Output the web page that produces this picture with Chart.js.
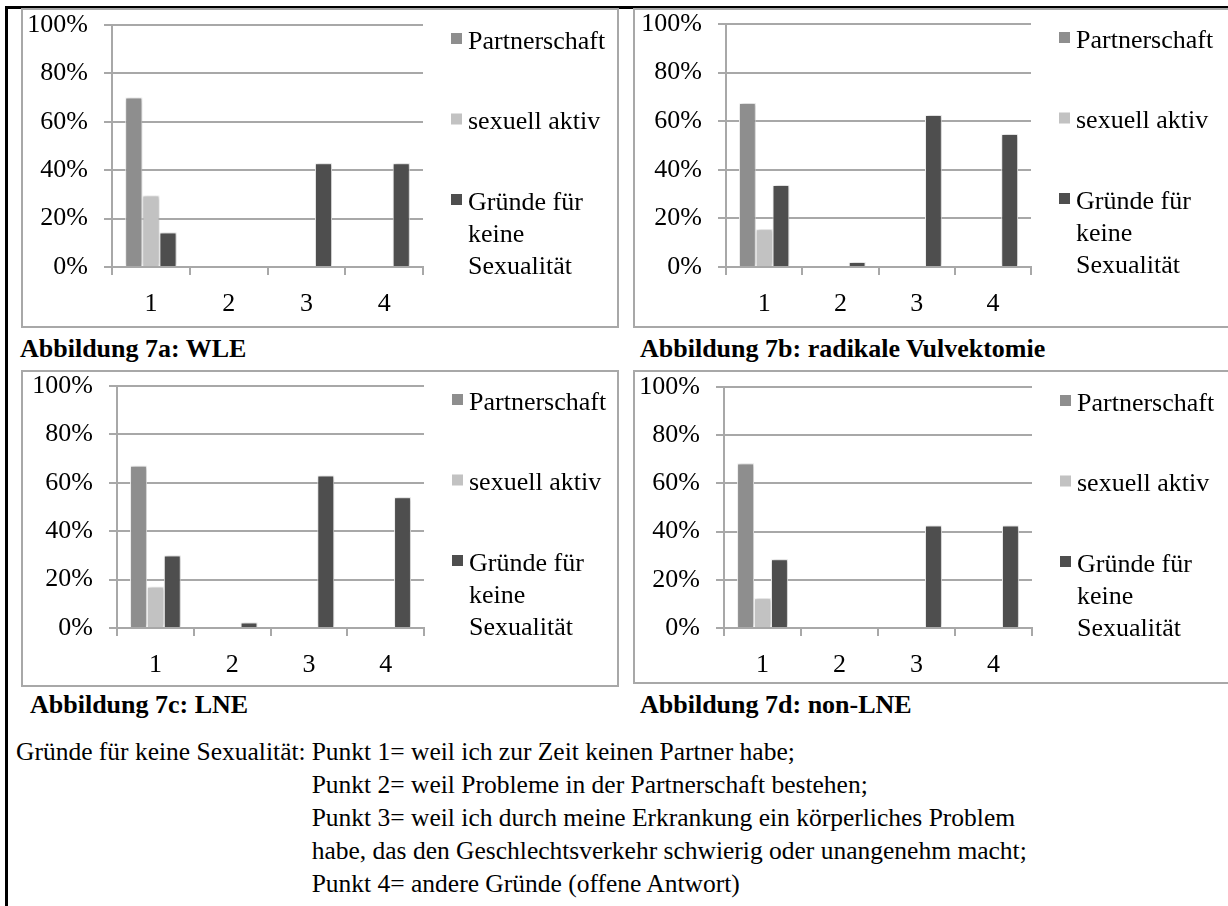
<!DOCTYPE html>
<html>
<head>
<meta charset="utf-8">
<script src="https://cdn.jsdelivr.net/npm/chart.js@4.4.1/dist/chart.umd.min.js"></script>
<style>
  body { margin: 0; width: 1228px; height: 906px; background: #fff; position: relative; overflow: hidden;
         font-family: "Liberation Serif", "Times New Roman", serif; color: #000; }
  #frame { position: absolute; left: 5px; top: 6px; width: 1300px; height: 1000px;
           border-top: 3px solid #000; border-left: 3px solid #000; }
  .panel { position: absolute; border: 2px solid #a8a8a8; background: #fff; }
  .panel canvas { display: block; }
  .cap { position: absolute; font-weight: bold; font-size: 26px; white-space: nowrap; line-height: 30px; }
  .note { position: absolute; left: 16px; top: 735px; font-size: 25.5px; line-height: 33px; white-space: nowrap;
          display: flex; }
  .note .lab { padding-right: 6px; }
</style>
</head>
<body>
<div id="frame"></div>

<div class="panel" style="left:21px;top:8px;"><canvas id="chartA" width="594" height="316"></canvas></div>
<div class="panel" style="left:633px;top:8px;"><canvas id="chartB" width="600" height="316"></canvas></div>
<div class="panel" style="left:21px;top:370px;"><canvas id="chartC" width="594" height="313"></canvas></div>
<div class="panel" style="left:633px;top:370px;"><canvas id="chartD" width="600" height="310"></canvas></div>

<div class="cap" style="left:20px;top:334px;">Abbildung 7a: WLE</div>
<div class="cap" style="left:640px;top:334px;">Abbildung 7b: radikale Vulvektomie</div>
<div class="cap" style="left:30px;top:690px;">Abbildung 7c: LNE</div>
<div class="cap" style="left:640px;top:690px;">Abbildung 7d: non-LNE</div>

<div class="note">
  <div class="lab">Gründe für keine Sexualität:</div>
  <div>Punkt 1= weil ich zur Zeit keinen Partner habe;<br>Punkt 2= weil Probleme in der Partnerschaft bestehen;<br>Punkt 3= weil ich durch meine Erkrankung ein körperliches Problem<br>habe, das den Geschlechtsverkehr schwierig oder unangenehm macht;<br>Punkt 4= andere Gründe (offene Antwort)</div>
</div>

<script>
const categories = ['1', '2', '3', '4'];
const seriesNames = ['Partnerschaft', 'sexuell aktiv', 'Gründe für keine Sexualität'];
const seriesColors = ['#8e8e8e', '#c2c2c2', '#4e4e4e'];
const yTickValues = [0, 20, 40, 60, 80, 100];

// 7a: WLE
const wlePartner = [70, null, null, null];
const wleActive = [29.5, null, null, null];
const wleReasons = [14.3, 0, 42.9, 42.9];

// 7b: radikale Vulvektomie
const radPartner = [67.5, null, null, null];
const radActive = [15.5, null, null, null];
const radReasons = [33.7, 2.1, 62.6, 54.7];

// 7c: LNE
const lnePartner = [67, null, null, null];
const lneActive = [17, null, null, null];
const lneReasons = [30, 2.3, 63, 54];

// 7d: non-LNE
const nonPartner = [68.3, null, null, null];
const nonActive = [12.3, null, null, null];
const nonReasons = [28.5, 0, 42.5, 42.5];

const FONT = '"Liberation Serif", "Times New Roman", serif';
const GRID = '#a8a8a8';

const barShadow = {
  id: 'barShadow',
  beforeDatasetsDraw(chart) {
    const c = chart.ctx;
    c.save();
    c.shadowColor = 'rgba(0,0,0,0.3)';
    c.shadowBlur = 4;
    c.shadowOffsetX = 1;
  },
  afterDatasetsDraw(chart) {
    chart.ctx.restore();
  }
};

function wrapText(ctx, text, maxWidth) {
  const words = text.split(' ');
  const lines = [];
  let line = '';
  for (const w of words) {
    const test = line ? line + ' ' + w : w;
    if (line && ctx.measureText(test).width > maxWidth) {
      lines.push(line);
      line = w;
    } else {
      line = test;
    }
  }
  if (line) lines.push(line);
  return lines;
}

// legend on the right, Excel style
const sideLegend = {
  id: 'sideLegend',
  afterDraw(chart, args, opts) {
    const ctx = chart.ctx;
    const area = chart.chartArea;
    ctx.save();
    ctx.font = '26px ' + FONT;
    ctx.textBaseline = 'middle';
    let y = area.top + opts.offsetTop;
    chart.data.datasets.forEach((ds) => {
      const lines = wrapText(ctx, ds.label, opts.maxWidth);
      ctx.fillStyle = ds.backgroundColor;
      ctx.fillRect(area.right + opts.boxX, y - 9, 11, 11);
      ctx.fillStyle = '#000';
      lines.forEach((ln, i) => ctx.fillText(ln, area.right + opts.textX, y + i * opts.lineHeight));
      y += opts.step;
    });
    ctx.restore();
  }
};

function makeChart(id, partner, active, reasons, frame) {
  const canvas = document.getElementById(id);
  const ctx = canvas.getContext('2d');
  const values = [partner, active, reasons];

  new Chart(ctx, {
    type: 'bar',
    data: {
      labels: categories,
      datasets: seriesNames.map((name, i) => ({
        label: name,
        data: values[i],
        backgroundColor: seriesColors[i],
        borderColor: '#ffffff',
        borderWidth: 1,
        borderSkipped: 'bottom',
        categoryPercentage: 0.66,
        barPercentage: 1,
      })),
    },
    options: {
      responsive: false,
      animation: false,
      devicePixelRatio: 1,
      layout: { padding: { top: frame.top, right: canvas.width - frame.right, left: 0, bottom: 0 } },
      plugins: {
        legend: { display: false },
        tooltip: { enabled: false },
        sideLegend: { offsetTop: 17, step: 80.5, lineHeight: 32, boxX: 28, textX: 45, maxWidth: 150 },
      },
      scales: {
        x: {
          offset: true,
          grid: { display: true, offset: true, drawOnChartArea: false, drawTicks: true, tickLength: 8, color: GRID, lineWidth: 2 },
          border: { display: true, color: GRID, width: 2 },
          ticks: { color: '#000', padding: 14, font: { family: FONT, size: 26 } },
          afterFit: (scale) => { scale.height = canvas.height - frame.bottom; },
        },
        y: {
          min: 0,
          max: 100,
          afterBuildTicks: (scale) => { scale.ticks = yTickValues.map(v => ({ value: v })); },
          grid: { color: GRID, lineWidth: 2, tickLength: 8 },
          border: { display: true, color: GRID, width: 2 },
          ticks: { color: '#000', padding: 16, font: { family: FONT, size: 26 }, callback: v => v + '%' },
          afterFit: (scale) => {
            scale.width = frame.left;
            scale.paddingTop = 0;
            scale.paddingBottom = 0;
          },
        },
      },
    },
    plugins: [barShadow, sideLegend],
  });
}

makeChart('chartA', wlePartner, wleActive, wleReasons, { left: 89, top: 15, bottom: 257, right: 400 });
makeChart('chartB', radPartner, radActive, radReasons, { left: 91, top: 14, bottom: 257, right: 396 });
makeChart('chartC', lnePartner, lneActive, lneReasons, { left: 94, top: 14, bottom: 256, right: 401 });
makeChart('chartD', nonPartner, nonActive, nonReasons, { left: 89, top: 15, bottom: 256, right: 397 });
</script>
</body>
</html>
